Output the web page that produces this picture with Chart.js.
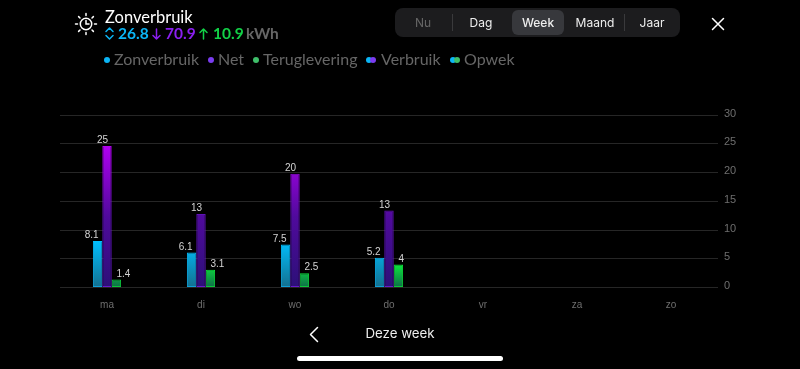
<!DOCTYPE html>
<html lang="nl">
<head>
<meta charset="utf-8">
<title>Zonverbruik</title>
<script src="https://cdn.jsdelivr.net/npm/chart.js@4/dist/chart.umd.min.js"></script>
<style>
  html, body { margin: 0; background: #000; }
  #wrap { position: relative; width: 800px; height: 369px; overflow: hidden; font-family: Lato, sans-serif; }
  #wrap canvas { position: absolute; left: 0; top: 0; }
  .t { position: absolute; white-space: nowrap; line-height: 1; }
  .title { left: 105px; top: 9px; font-size: 16.5px; color: #fff; }
  .sum { top: 26px; font-size: 15.5px; font-weight: 700; }
  .leg { top: 51px; font-size: 16px; color: #666; }
  .dot { position: absolute; width: 6px; height: 6px; border-radius: 50%; top: 56.5px; }
  .seg { position: absolute; left: 395px; top: 8px; width: 285px; height: 29px; background: #1c1c1e; border-radius: 8px; }
  .pill { position: absolute; left: 512px; top: 10px; width: 52px; height: 25px; background: #37383c; border-radius: 6px; }
  .div { position: absolute; top: 14px; width: 1px; height: 17px; background: #3a3a3c; }
  .tab { top: 17px; font-family: Inter, sans-serif; font-size: 12px; color: #eee; transform: translateX(-50%); }
  .home { position: absolute; left: 297px; top: 356px; width: 206px; height: 5px; background: #fff; border-radius: 3px; }
  svg { position: absolute; overflow: visible; }
</style>
</head>
<body>
<div id="wrap">
  <canvas id="chart" width="800" height="369"></canvas>

  <svg style="left:74px;top:12px" width="24" height="24" viewBox="0 0 24 24" fill="none" stroke="#fff" stroke-width="1.5" stroke-linecap="round">
    <circle cx="12" cy="12" r="5.7"/>
    <path d="M12 8.6V12H15M12 1.5V3.5M12 20.5V22.5M1.5 12H3.5M20.5 12H22.5M4.6 4.6L6 6M18 18L19.4 19.4M19.4 4.6L18 6M6 18L4.6 19.4"/>
  </svg>
  <div class="t title">Zonverbruik</div>

  <svg style="left:105px;top:27px" width="9" height="13" fill="none" stroke="#0bb5f5" stroke-width="1.5" stroke-linecap="round" stroke-linejoin="round">
    <path d="M1 4.5L4.5 1L8 4.5M1 8.5L4.5 12L8 8.5"/>
  </svg>
  <div class="t sum" style="left:118px;color:#0bb5f5" id="sumSolar"></div>
  <svg style="left:152px;top:28px" width="9" height="12" fill="none" stroke="#8a1ff0" stroke-width="1.5" stroke-linecap="round" stroke-linejoin="round">
    <path d="M4.5 1V11M1 7.5L4.5 11L8 7.5"/>
  </svg>
  <div class="t sum" style="left:165px;color:#8a1ff0" id="sumNet"></div>
  <svg style="left:199px;top:28px" width="9" height="12" fill="none" stroke="#12d147" stroke-width="1.5" stroke-linecap="round" stroke-linejoin="round">
    <path d="M4.5 11V1M1 4.5L4.5 1L8 4.5"/>
  </svg>
  <div class="t sum" style="left:213px;color:#12d147" id="sumReturn"></div>
  <div class="t sum" style="left:246px;color:#666">kWh</div>

  <div class="dot" style="left:104px;background:#0bb5f5"></div>
  <div class="t leg" style="left:114px">Zonverbruik</div>
  <div class="dot" style="left:208px;background:#7a3cf0"></div>
  <div class="t leg" style="left:218px">Net</div>
  <div class="dot" style="left:253px;background:#3fbf6a"></div>
  <div class="t leg" style="left:263px">Teruglevering</div>
  <div class="dot" style="left:366px;background:#0bb5f5"></div>
  <div class="dot" style="left:370px;background:#7a3cf0"></div>
  <div class="t leg" style="left:381px">Verbruik</div>
  <div class="dot" style="left:450px;background:#0bb5f5"></div>
  <div class="dot" style="left:454px;background:#3fbf6a"></div>
  <div class="t leg" style="left:464px">Opwek</div>

  <div class="seg"></div>
  <div class="pill"></div>
  <div class="div" style="left:452px"></div>
  <div class="div" style="left:624px"></div>
  <div class="t tab" style="left:423px;color:#666">Nu</div>
  <div class="t tab" style="left:481px">Dag</div>
  <div class="t tab" style="left:538px;font-weight:500">Week</div>
  <div class="t tab" style="left:595px">Maand</div>
  <div class="t tab" style="left:652px">Jaar</div>

  <svg style="left:712px;top:18px" width="12" height="12" stroke="#fff" stroke-width="1.5" stroke-linecap="round">
    <path d="M0.5 0.5L11.5 11.5M11.5 0.5L0.5 11.5"/>
  </svg>
  <svg style="left:310px;top:327px" width="8" height="15" fill="none" stroke="#fff" stroke-width="1.5" stroke-linecap="round" stroke-linejoin="round">
    <path d="M7.5 0.5L0.5 7.5L7.5 14.5"/>
  </svg>
  <div class="t" style="left:400px;top:327px;transform:translateX(-50%);font-family:Inter,sans-serif;font-size:13.3px;color:#eee">Deze week</div>
  <div class="home"></div>
</div>

<script>
"use strict";

const days = ["ma", "di", "wo", "do", "vr", "za", "zo"];
const solarUse = [8.1, 6.1, 7.5, 5.2, null, null, null];
const netUse = [24.6, 12.8, 19.8, 13.4, null, null, null];
const returned = [1.4, 3.1, 2.5, 4, null, null, null];
const totals = { sumSolar: "26.8", sumNet: "70.9", sumReturn: "10.9" };
const yTicks = [0, 5, 10, 15, 20, 25, 30];

Object.keys(totals).forEach((id) => {
  document.getElementById(id).textContent = totals[id];
});

// Colours run from the series' own maximum down to zero, so low bars look darker
function gradient(values, stops) {
  return (ctx) => {
    const { chart } = ctx;
    if (!chart.chartArea) return stops[0];
    const y = chart.scales.y;
    const g = chart.ctx.createLinearGradient(0, y.getPixelForValue(Math.max(...values)), 0, y.getPixelForValue(0));
    stops.forEach((c, i) => g.addColorStop(i / (stops.length - 1), c));
    return g;
  };
}

function formatLabel(v) {
  return v >= 10 ? String(Math.round(v)) : String(v);
}

// Labels hug the bar's centre: first two series to the left, last one to the right
const barLabels = {
  id: "barLabels",
  afterDatasetsDraw(chart) {
    const { ctx } = chart;
    ctx.save();
    ctx.font = "10px 'Liberation Sans'";
    ctx.fillStyle = "#d4d4d4";
    ctx.textBaseline = "bottom";
    chart.data.datasets.forEach((ds, i) => {
      chart.getDatasetMeta(i).data.forEach((bar, j) => {
        if (ds.data[j] == null) return;
        ctx.textAlign = i === 2 ? "left" : "right";
        ctx.fillText(formatLabel(ds.data[j]), bar.x + (i === 2 ? 0 : 1), bar.y - 0.5);
      });
    });
    ctx.restore();
  },
};

function barSet(label, data, fill, edge) {
  return {
    label,
    data,
    backgroundColor: gradient(data.filter((v) => v != null), fill),
    borderColor: gradient(data.filter((v) => v != null), edge),
    borderWidth: 1,
    borderSkipped: false,
    barPercentage: 1,
    categoryPercentage: 0.3,
  };
}

new Chart(document.getElementById("chart"), {
  type: "bar",
  data: {
    labels: days,
    datasets: [
      barSet("Zonverbruik", solarUse, ["#00c0ff", "#146f8e"], ["#00c0ff", "#10a0d8"]),
      barSet("Net", netUse, ["#b000f0", "#4f0a9c", "#2c1078"], ["#b000f0", "#5c12b4", "#6a18d0"]),
      barSet("Teruglevering", returned, ["#0ce63c", "#0f6a4a"], ["#0ce63c", "#0cc53a"]),
    ],
  },
  plugins: [barLabels],
  options: {
    responsive: false,
    animation: false,
    layout: { padding: { left: 60, top: 115, right: 0, bottom: 0 } },
    plugins: { legend: { display: false }, tooltip: { enabled: false } },
    scales: {
      x: {
        grid: { display: false },
        border: { display: false },
        ticks: { color: "#6e6e6e", font: { size: 10, family: "'Liberation Sans'" }, padding: 4, maxRotation: 0 },
        afterFit(axis) { axis.height = 81.4; },
      },
      y: {
        position: "right",
        min: 0,
        max: 30,
        afterBuildTicks(axis) { axis.ticks = yTicks.map((value) => ({ value })); },
        afterFit(axis) { axis.width = 82; },
        grid: { color: "#262626", lineWidth: 1, drawTicks: false },
        border: { display: false },
        ticks: {
          color: "#6e6e6e",
          padding: 6,
          font: { size: 11, family: "'Liberation Sans'", lineHeight: "3px" },
          // blank second line lifts the number just above its grid line
          callback: (v) => [String(v), ""],
        },
      },
    },
  },
});
</script>
</body>
</html>
